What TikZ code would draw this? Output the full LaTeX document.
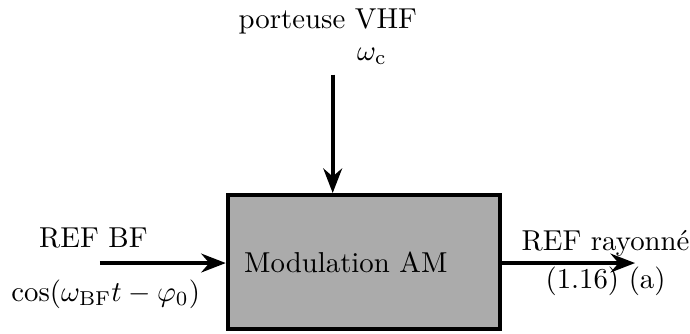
\documentclass[tikz,border=0pt]{standalone}
\usepackage{amsmath}
\usepackage{tikz}
\usetikzlibrary{arrows.meta,positioning}
\tikzset{
    %Define standard arrow tip
    >={Stealth[length=8.5pt,width=6.5pt]},
    %Define style for the block
    bloc/.style={
           rectangle,
           draw=black, line width=1.4pt,
           fill=black!33,
           minimum width=3.32cm,
           minimum height=1.64cm,
           text width=2.92cm,
           inner xsep=0.2cm,
           align=left},
    % Define style for labels
    etiq/.style={inner sep=1pt},
    % Define arrow style
    fleche/.style={->, line width=1.4pt}
}
\begin{document}
\begin{tikzpicture}
\useasboundingbox (0,0) rectangle (8.42,4.07);
 %nodes
\node[bloc](mod) at (4.44,0.87){Modulation AM};
\coordinate (bf) at (1.22,0.86);
\coordinate (vhf) at (4.06,3.16);
\coordinate (sortie) at (7.75,0.86);
\node[etiq](porteuse) at (4.00,3.81){porteuse VHF};
\node[etiq](wc) at (4.54,3.38){$\omega_{\mathrm{c}}$};
\node[etiq](refbf) at (1.14,1.17){REF BF};
\node[etiq](cosbf) at (1.29,0.48){$\cos(\omega_{\mathrm{BF}}t-\varphi_0)$};
\node[etiq](refray) at (7.39,1.10){REF rayonn\'e};
\node[etiq](eq) at (7.39,0.64){(1.16) (a)};

 %arrows
\draw[fleche] (bf) -- (mod.west |- bf);
\draw[fleche] (vhf) -- (vhf |- mod.north);
\draw[fleche] (mod.east |- sortie) -- (sortie);

\end{tikzpicture}
\end{document}
